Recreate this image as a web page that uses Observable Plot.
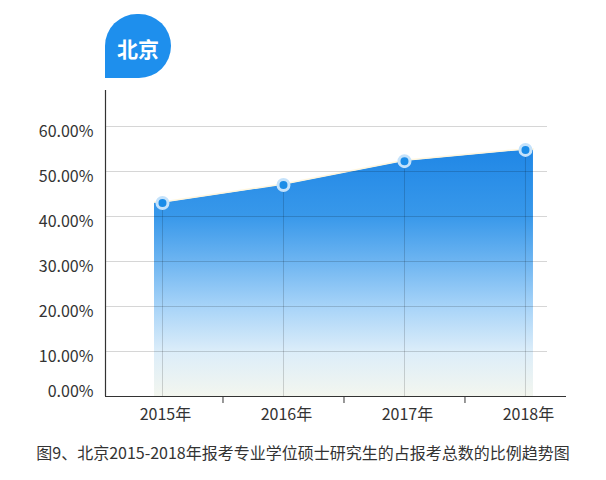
<!DOCTYPE html>
<html><head><meta charset="utf-8">
<script src="https://cdn.jsdelivr.net/npm/d3@7"></script>
<script src="https://cdn.jsdelivr.net/npm/@observablehq/plot@0.6"></script>
<style>
body{margin:0;background:#fff;font-family:"Noto Sans CJK SC",sans-serif;}
#wrap{position:relative;width:606px;height:480px;overflow:hidden}
#chart{position:absolute;left:0;top:0}
#chart svg{display:block}
#badge{position:absolute;z-index:2;left:105px;top:14px;width:66px;height:64px;background:#1e8fed;border-radius:33px 33px 33px 0;color:#fff;font-weight:bold;font-size:21px;display:flex;align-items:center;justify-content:center;padding-top:4px;box-sizing:border-box}
#caption{position:absolute;left:0;width:606px;top:440px;text-align:center;font-size:16px;color:#333;line-height:24px;white-space:nowrap}
</style></head>
<body><div id="wrap"><div id="badge"></div><div id="chart"></div><div id="caption"></div></div>
<script>
const region = "北京";
const captionText = "图9、北京2015-2018年报考专业学位硕士研究生的占报考总数的比例趋势图";
const years = [2015, 2016, 2017, 2018];
const yearLabels = ["2015年", "2016年", "2017年", "2018年"];
const shares = [0.430, 0.470, 0.523, 0.548];
const yTicks = [0, 0.1, 0.2, 0.3, 0.4, 0.5, 0.6];

document.getElementById("badge").textContent = region;
document.getElementById("caption").textContent = captionText;

const data = years.map((y, i) => ({year: y, share: shares[i]}));
// area extends slightly beyond the first/last points (flat), derived from the data
const pad = 0.066;
const areaData = [
  {year: years[0] - pad, share: shares[0]},
  ...data,
  {year: years[years.length - 1] + pad, share: shares[shares.length - 1]}
];
const mids = years.slice(0, -1).map(y => y + 0.5);

const gradStops = [[0, "#2087e6"], [0.27, "#3898ea"], [0.45, "#6cb4f1"], [0.64, "#a8d4f8"], [0.82, "#dcedf9"], [1, "#f3f6ef"]];
const gradient = () => {
  const defs = d3.create("svg:defs");
  const g = defs.append("linearGradient").attr("id", "areaGrad")
    .attr("x1", 0).attr("x2", 0).attr("y1", 0).attr("y2", 1);
  gradStops.forEach(([o, c]) => g.append("stop").attr("offset", o).attr("stop-color", c));
  return defs.node();
};
const pct = d => (d * 100).toFixed(2) + "%";

const chart = Plot.plot({
  width: 606,
  height: 432,
  marginLeft: 105,
  marginRight: 40,
  marginTop: 90,
  marginBottom: 36,
  style: {fontFamily: "'Noto Sans CJK SC', sans-serif", fontSize: "16px", color: "#333", background: "transparent"},
  x: {type: "linear", domain: [2014.529, 2018.339], label: null},
  y: {domain: [0, 0.68], label: null},
  marks: [
    gradient,
    Plot.areaY(areaData, {x: "year", y: "share", fill: "url(#areaGrad)"}),
    Plot.lineY(areaData, {x: "year", y: "share", stroke: "#fff6de", strokeWidth: 1.5, dy: -1}),
    Plot.ruleY(yTicks.filter(d => d > 0), {stroke: "#000", strokeOpacity: 0.16, insetRight: 19}),
    Plot.ruleX(data, {x: "year", y1: 0, y2: "share", stroke: "#000", strokeOpacity: 0.16}),
    Plot.ruleX([2014.529], {stroke: "#333", strokeWidth: 1.2}),
    Plot.ruleY([0], {stroke: "#333", strokeWidth: 1.2}),
    Plot.axisX({ticks: mids, tickSize: 7, tickFormat: () => "", stroke: "#333", label: null}),
    Plot.axisX({ticks: years, tickSize: 0, tickPadding: 12, dx: 3, color: "#333", label: null,
      tickFormat: d => yearLabels[years.indexOf(d)]}),
    Plot.axisY({ticks: yTicks.filter(d => d > 0), tickSize: 0, tickPadding: 12, dy: 5, color: "#333",
      label: null, tickFormat: pct}),
    Plot.axisY({ticks: [0], tickSize: 0, tickPadding: 12, dy: -5, color: "#333", label: null, tickFormat: pct}),
    Plot.dot(data, {x: "year", y: "share", r: 5.5, fill: "#1a8ce8", stroke: "#c4e2fb", strokeWidth: 3})
  ]
});
document.getElementById("chart").appendChild(chart);
</script>
</body></html>
